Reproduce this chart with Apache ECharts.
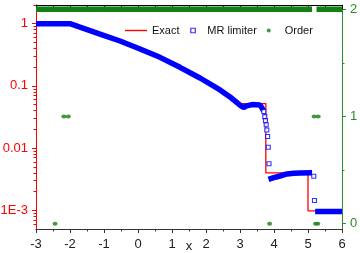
<!DOCTYPE html>
<html><head><meta charset="utf-8">
<script src="https://cdn.jsdelivr.net/npm/echarts@6/dist/echarts.min.js"></script>
<style>html,body{margin:0;padding:0;background:#fff}#c{width:360px;height:253px}</style>
</head><body><div id="c"></div>
<script>
// ---- data ----
const xTicks = [-3, -2, -1, 0, 1, 2, 3, 4, 5, 6];
const logLabelValues = [0.001, 0.01, 0.1, 1];
const logMinorValues = [0.0006, 0.0007, 0.0008, 0.0009,
  0.002, 0.003, 0.004, 0.005, 0.006, 0.007, 0.008, 0.009,
  0.02, 0.03, 0.04, 0.05, 0.06, 0.07, 0.08, 0.09,
  0.2, 0.3, 0.4, 0.5, 0.6, 0.7, 0.8, 0.9, 2];
const orderLabelValues = [0, 1, 2];
const orderMinorValues = [0.5, 1.5];

const exactPts = [[-3,1],[-2,1],[-1.706,0.879],[-1.118,0.681],[-0.529,0.527],[0.059,0.393],
  [0.647,0.288],[1.235,0.199],[1.824,0.134],[2.412,0.0863],[2.706,0.0664],[2.95,0.052],
  [3.76,0.052],[3.76,0.004],[5.0,0.004],[5.0,0.00098],[6,0.00098]];

const mrBand = [[-3,1],[-2,1],[-1.706,0.879],[-1.118,0.681],[-0.529,0.527],[0.059,0.393],
  [0.647,0.288],[1.235,0.199],[1.824,0.134],[2.412,0.0863],[2.706,0.0664],[3.0,0.0489],
  [3.103,0.0449],[3.2,0.0478],[3.353,0.0501],[3.588,0.0495],[3.691,0.0402],[3.70,'-'],
  [3.838,0.00313],[3.971,0.00331],[4.176,0.00356],[4.382,0.00384],[4.588,0.00394],
  [4.765,0.00398],[5.12,0.004],[5.15,'-'],[5.21,0.00096],[6,0.00096]];

const mrSquares = [[3.70,0.0387],[3.729,0.0321],[3.75,0.0277],[3.771,0.0237],[3.788,0.0195],
  [3.812,0.01535],[3.832,0.01034],[3.853,0.0056],[5.17,0.00353],[5.19,0.00144]];

const orderPts = [[-2.18,1],[-2.05,1],[5.18,1],[5.30,1],[-2.44,0],[3.87,0],[5.22,0],[5.29,0]];
const orderBand = [[-3,2],[5.12,2],[5.18,'-'],[5.25,2],[6,2]];

// ---- styling ----
const FONT = "'Liberation Sans', Arial, Helvetica, sans-serif";
const RED = '#ff0000', BLUE = '#0000ff', GREEN = '#2a8c2a', GREEN_D = '#138013', AX = '#333';

function logFmt(v) {
  const l = Math.log10(v), e = Math.round(l);
  if (Math.abs(l - e) > 0.01) return '';
  return ({0:'1','-1':'0.1','-2':'0.01','-3':'1E-3'})[e] || '';
}
function ordFmt(v) {
  const r = Math.round(v);
  return Math.abs(v - r) < 1e-6 ? String(r) : '';
}

const chart = echarts.init(document.getElementById('c'), null, {renderer: 'canvas'});
const legendBase = {orient: 'horizontal', padding: 0, top: 25, selectedMode: false,
  textStyle: {fontFamily: FONT, fontSize: 11, color: '#111'}};

chart.setOption({
  animation: false,
  grid: {left: 36, right: 18, top: 5, bottom: 24, containLabel: false, outerBoundsMode: 'none'},
  legend: [
    Object.assign({}, legendBase, {left: 125, itemWidth: 22, itemHeight: 1.4, symbolKeepAspect: false,
      data: [{name: 'Exact', icon: 'rect', itemStyle: {color: RED, borderWidth: 0}}]}),
    Object.assign({}, legendBase, {left: 190.2, itemWidth: 4.5, itemHeight: 4.5,
      textStyle: {fontFamily: FONT, fontSize: 11, color: '#111', padding: [0, 0, 0, 7]},
      data: [{name: 'MR limiter', icon: 'rect', itemStyle: {color: '#fff', borderColor: BLUE, borderWidth: 1.2}}]}),
    Object.assign({}, legendBase, {left: 266.7, itemWidth: 4, itemHeight: 4,
      textStyle: {fontFamily: FONT, fontSize: 11, color: '#111', padding: [0, 0, 0, 9]},
      data: [{name: 'Order', icon: 'circle', itemStyle: {color: GREEN_D}}]})
  ],
  xAxis: [
    {type: 'value', position: 'bottom', min: -3, max: 6, interval: 1,
      axisLine: {onZero: false, lineStyle: {color: AX, width: 1}},
      axisTick: {inside: false, length: 4, lineStyle: {color: AX}},
      minorTick: {show: true, splitNumber: 2, length: 2.5, lineStyle: {color: AX}},
      axisLabel: {fontFamily: FONT, fontSize: 13, color: '#222', margin: 9},
      splitLine: {show: false},
      name: 'x', nameLocation: 'middle', nameGap: 11, nameMoveOverlap: false,
      nameTextStyle: {fontFamily: FONT, fontSize: 13, color: '#222', verticalAlign: 'top'}},
    {type: 'value', position: 'top', min: -3, max: 6, interval: 1,
      axisLine: {onZero: false, lineStyle: {color: '#000', width: 1}},
      axisTick: {inside: true, length: 4, lineStyle: {color: '#000'}},
      minorTick: {show: true, splitNumber: 2, length: 2.5, lineStyle: {color: '#000'}},
      axisLabel: {show: false}, splitLine: {show: false}}
  ],
  yAxis: [
    {type: 'log', position: 'left', min: 0.0005, max: 2, logBase: 10,
      axisLine: {show: true, onZero: false, lineStyle: {color: RED, width: 1}},
      axisTick: {show: true, inside: false, length: 4, lineStyle: {color: RED}, customValues: logLabelValues},
      axisLabel: {fontFamily: FONT, fontSize: 13, color: RED, margin: 8, formatter: logFmt, customValues: logLabelValues},
      splitLine: {show: false}, minorTick: {show: false}},
    {type: 'log', position: 'left', min: 0.0005, max: 2, logBase: 10,
      axisLine: {show: false, onZero: false},
      axisTick: {show: true, inside: false, length: 2.5, lineStyle: {color: RED}, customValues: logMinorValues},
      axisLabel: {show: false}, splitLine: {show: false}},
    {type: 'value', position: 'right', min: -0.05, max: 2.04,
      axisLine: {show: true, onZero: false, lineStyle: {color: GREEN, width: 1}},
      axisTick: {show: true, inside: false, length: 4, lineStyle: {color: GREEN}, customValues: orderLabelValues},
      axisLabel: {fontFamily: FONT, fontSize: 13, color: GREEN, margin: 8, formatter: ordFmt, customValues: orderLabelValues},
      splitLine: {show: false}},
    {type: 'value', position: 'right', min: -0.05, max: 2.04,
      axisLine: {show: false, onZero: false},
      axisTick: {show: true, inside: false, length: 2.5, lineStyle: {color: GREEN}, customValues: orderMinorValues},
      axisLabel: {show: false}, splitLine: {show: false}}
  ],
  series: [
    {name: 'Exact', type: 'line', xAxisIndex: 0, yAxisIndex: 0, data: exactPts, symbol: 'none',
      lineStyle: {color: RED, width: 1.3}, itemStyle: {color: RED}, z: 2, silent: true},
    {name: 'MR limiter', type: 'scatter', xAxisIndex: 0, yAxisIndex: 0, data: mrSquares, symbol: 'rect',
      symbolSize: 4, itemStyle: {color: '#fff', borderColor: BLUE, borderWidth: 1.1}, z: 4, silent: true},
    {name: 'MR limiter', type: 'line', xAxisIndex: 0, yAxisIndex: 0, data: mrBand, symbol: 'none',
      connectNulls: false, lineStyle: {color: BLUE, width: 5.5}, itemStyle: {color: BLUE}, z: 3, silent: true},
    {name: 'Order', type: 'scatter', xAxisIndex: 0, yAxisIndex: 2, data: orderPts, symbol: 'circle',
      symbolSize: [5, 4], itemStyle: {color: GREEN_D}, z: 5, silent: true},
    {name: 'Order', type: 'line', xAxisIndex: 0, yAxisIndex: 2, data: orderBand, symbol: 'none',
      connectNulls: false, lineStyle: {color: GREEN_D, width: 5.5}, itemStyle: {color: GREEN_D}, z: 5, silent: true}
  ]
});
</script></body></html>
